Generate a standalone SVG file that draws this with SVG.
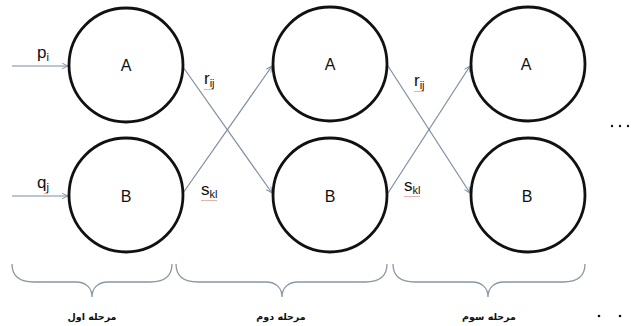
<svg xmlns="http://www.w3.org/2000/svg" width="636" height="326" viewBox="0 0 636 326">
<defs>
<style>
.node{fill:#fff;stroke:#111;stroke-width:2.8}
.lbl{font-family:"Liberation Sans",Arial,sans-serif;font-size:16px;fill:#111;text-anchor:middle}
.var{font-family:"Liberation Sans",Arial,sans-serif;font-size:17px;fill:#111}
.sub{font-size:11px}
.edge{stroke:#7d8ea0;stroke-width:1.2;fill:none;marker-end:url(#arr)}
.brace{stroke:#8a96a4;stroke-width:1.3;fill:none}
.fa{font-family:"DejaVu Sans","Noto Sans",sans-serif;font-size:9.5px;font-weight:bold;fill:#111;text-anchor:middle}
.sq{stroke:#d06060;stroke-width:0.7;fill:none;opacity:0.7}
</style>
<marker id="arr" viewBox="0 0 10 10" refX="9.5" refY="5" markerWidth="7" markerHeight="7" orient="auto" markerUnits="userSpaceOnUse">
<path d="M1,1 L9.5,5 L1,9" fill="none" stroke="#7d8ea0" stroke-width="1.3"/>
</marker>
</defs>
<rect width="636" height="326" fill="#fff"/>
<g id="connectors">
<line class="edge" x1="12" y1="66" x2="68" y2="66"/>
<line class="edge" x1="12" y1="196" x2="68" y2="196"/>
<line class="edge" x1="183" y1="67" x2="272" y2="193"/>
<line class="edge" x1="183" y1="193" x2="272" y2="66"/>
<line class="edge" x1="388" y1="66" x2="470" y2="193"/>
<line class="edge" x1="388" y1="193" x2="470" y2="66"/>
</g>
<g id="edge-labels">
<text class="var" x="37" y="58">p<tspan class="sub" dy="3">i</tspan></text>
<text class="var" x="37" y="188">q<tspan class="sub" dy="3">j</tspan></text>
<text class="var" x="204" y="84">r<tspan class="sub" dy="3">ij</tspan></text>
<text class="var" x="201" y="195">s<tspan class="sub" dy="3">kl</tspan></text>
<text class="var" x="414" y="86">r<tspan class="sub" dy="3">ij</tspan></text>
<text class="var" x="404" y="191">s<tspan class="sub" dy="3">kl</tspan></text>
<path class="sq" d="M44,193 l1,1 l1,-1 l1,1 l1,-1"/>
<path class="sq" d="M204,89 l1,1 l1,-1 l1,1 l1,-1 l1,1 l1,-1 l1,1 l1,-1 l1,1 l1,-1"/>
<path class="sq" d="M201,200 l1,1 l1,-1 l1,1 l1,-1 l1,1 l1,-1 l1,1 l1,-1 l1,1 l1,-1 l1,1 l1,-1 l1,1 l1,-1 l1,1 l1,-1"/>
<path class="sq" d="M414,91 l1,1 l1,-1 l1,1 l1,-1 l1,1 l1,-1 l1,1 l1,-1 l1,1 l1,-1"/>
<path class="sq" d="M404,196 l1,1 l1,-1 l1,1 l1,-1 l1,1 l1,-1 l1,1 l1,-1 l1,1 l1,-1 l1,1 l1,-1 l1,1 l1,-1 l1,1 l1,-1"/>
</g>
<g id="node-A1"><circle class="node" cx="126" cy="65" r="57"/><text class="lbl" x="126" y="71">A</text></g>
<g id="node-B1"><circle class="node" cx="126" cy="195" r="57"/><text class="lbl" x="126" y="202">B</text></g>
<g id="node-A2"><circle class="node" cx="330" cy="64" r="57"/><text class="lbl" x="330" y="70">A</text></g>
<g id="node-B2"><circle class="node" cx="330" cy="195" r="57"/><text class="lbl" x="330" y="202">B</text></g>
<g id="node-A3"><circle class="node" cx="528" cy="64" r="57"/><text class="lbl" x="526" y="70">A</text></g>
<g id="node-B3"><circle class="node" cx="528" cy="195" r="57"/><text class="lbl" x="527" y="202">B</text></g>
<g id="ellipsis-top" fill="#111">
<circle cx="612" cy="126" r="1.2"/><circle cx="620" cy="126" r="1.2"/><circle cx="628" cy="126" r="1.2"/>
</g>
<g id="stages">
<path class="brace" d="M12,264 C12,276 20,282 34,282 L76,282 C86,282 92,288 92,297 C92,288 98,282 108,282 L150,282 C164,282 172,276 172,264"/>
<path class="brace" d="M176,264 C176,276 184,282 198,282 L266,282 C276,282 282,288 282,297 C282,288 288,282 298,282 L365,282 C379,282 387,276 387,264"/>
<path class="brace" d="M393,264 C393,276 401,282 415,282 L472,282 C482,282 488,288 488,297 C488,288 494,282 504,282 L563,282 C577,282 585,276 585,264"/>
<text class="fa" x="92" y="320">مرحله اول</text>
<text class="fa" x="281" y="320">مرحله دوم</text>
<text class="fa" x="489" y="320">مرحله سوم</text>
<circle cx="599" cy="316" r="1.3" fill="#111"/><circle cx="620" cy="316" r="1.3" fill="#111"/>
</g>
</svg>
